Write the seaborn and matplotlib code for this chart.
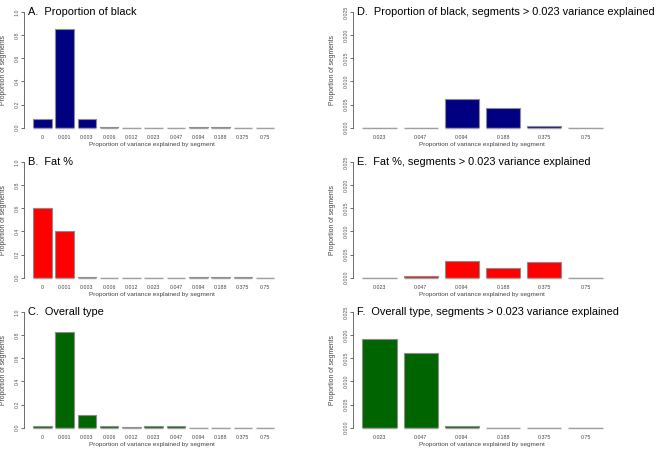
import matplotlib
matplotlib.use("Agg")
import matplotlib.pyplot as plt
import seaborn as sns

# bins of variance explained
bins_all = ["0", "0.001", "0.003", "0.006", "0.012", "0.023", "0.047", "0.094", "0.188", "0.375", "0.75"]
bins_big = ["0.023", "0.047", "0.094", "0.188", "0.375", "0.75"]

# proportion of segments per bin
black_all = [0.072, 0.855, 0.078, 0.004, 0.001, 0.001, 0.001, 0.006, 0.004, 0.0004, 0.0]
fat_all = [0.605, 0.40, 0.003, 0.0, 0.0, 0.0, 0.0004, 0.0037, 0.002, 0.0035, 0.0]
type_all = [0.014, 0.823, 0.108, 0.017, 0.010, 0.019, 0.016, 0.0003, 0.0, 0.0, 0.0]

black_big = [0.0, 0.0, 0.0061, 0.0042, 0.0004, 0.0]
fat_big = [0.0, 0.0004, 0.0037, 0.0020, 0.0035, 0.0]
type_big = [0.0191, 0.0162, 0.0003, 0.0, 0.0, 0.0]

titles_left = ["A.  Proportion of black", "B.  Fat %", "C.  Overall type"]
titles_right = ["D.  Proportion of black, segments > 0.023 variance explained",
                "E.  Fat %, segments > 0.023 variance explained",
                "F.  Overall type, segments > 0.023 variance explained"]
colors = ["#000080", "#ff0000", "#006400"]

sns.set_theme(style="white")
plt.rcParams["font.family"] = ["Liberation Sans", "DejaVu Sans"]

W, H = 656, 454
fig = plt.figure(figsize=(W / 100, H / 100), dpi=100)


def panel(x0, x1, top, bottom, cats, vals, color, title, xlim, yticks, ylabels):
    ax = fig.add_axes([x0 / W, 1 - bottom / H, (x1 - x0) / W, (bottom - top) / H])
    sns.barplot(x=cats, y=vals, order=cats, ax=ax, color=color, saturation=1,
                edgecolor="#8c8c8c", linewidth=0.8, width=0.833)
    # R draws the border of empty bars as a flat grey line
    for p in ax.patches:
        ax.plot([p.get_x(), p.get_x() + p.get_width()], [0, 0], color="#a0a0a0",
                lw=1.0, solid_capstyle="butt", clip_on=False, zorder=1)
    ax.set_xlim(*xlim)
    ax.set_ylim(yticks[0], yticks[-1])
    ax.set_yticks(yticks)
    ax.set_yticklabels(ylabels, rotation=90, va="center", fontsize=3.8, color="#555555")
    for s in ["top", "right", "bottom"]:
        ax.spines[s].set_visible(False)
    ax.spines["left"].set_color("#555555")
    ax.spines["left"].set_linewidth(0.6)
    ax.tick_params(axis="y", left=True, length=2.2, width=0.6, color="#555555", pad=0.8)
    ax.tick_params(axis="x", length=0, pad=5, labelsize=3.8, labelcolor="#444444")
    ax.set_xlabel("Proportion of variance explained by segment", fontsize=4.6,
                  color="#444444", labelpad=2)
    ax.set_ylabel("Proportion of segments", fontsize=4.9, color="#444444")
    ax.yaxis.set_label_coords(-17 / (x1 - x0), 0.5)
    ax.set_facecolor("none")
    ax.text(4 / (x1 - x0), 1.0, title, transform=ax.transAxes, ha="left", va="center",
            fontsize=7.9, color="black")
    return ax


left_vals = [black_all, fat_all, type_all]
right_vals = [black_big, fat_big, type_big]

for i in range(3):
    off = 150 * i
    panel(24, 279, 12 + off, 127.7 + off, bins_all, left_vals[i], colors[i], titles_left[i],
          (-0.82, 10.62), [0, 0.2, 0.4, 0.6, 0.8, 1.0],
          ["0.0", "0.2", "0.4", "0.6", "0.8", "1.0"])
    panel(353.3, 611, 12 + off, 127.7 + off, bins_big, right_vals[i], colors[i], titles_right[i],
          (-0.635, 5.62), [0, 0.005, 0.010, 0.015, 0.020, 0.025],
          ["0.000", "0.005", "0.010", "0.015", "0.020", "0.025"])

fig.savefig("out.png", dpi=100, facecolor="white")
